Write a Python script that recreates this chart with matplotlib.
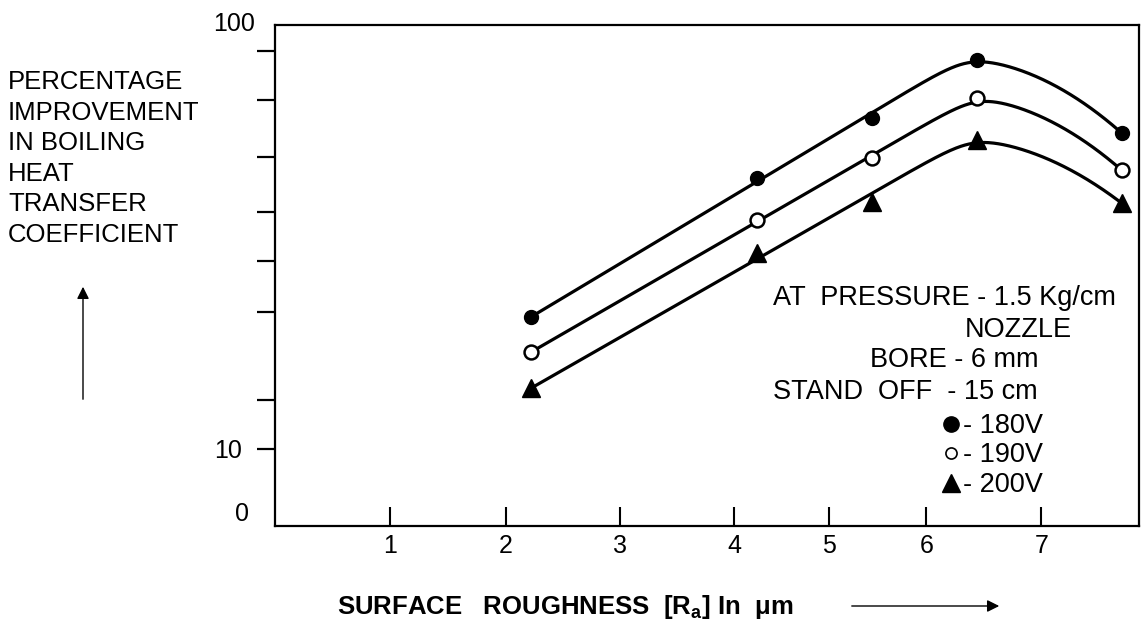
import numpy as np
import matplotlib
matplotlib.use("Agg")
import matplotlib.pyplot as plt
from matplotlib.lines import Line2D
from matplotlib.ticker import NullLocator

# ---------------- data ----------------
roughness = [2.22, 4.24, 5.44, 6.44, 7.70]          # Ra in micrometres
improve_180V = [38.9, 66.2, 76.8, 88.2, 74.2]
improve_190V = [30.9, 58.4, 69.8, 80.4, 67.6]
improve_200V = [22.7, 51.6, 61.8, 73.0, 61.6]
series_labels = ["- 180V", "- 190V", "- 200V"]
x_ticks = [1, 2, 3, 4, 5, 6, 7]
y_tick_major = [10]
y_tick_minor = [20, 40, 50, 60, 70, 80, 90]

# ---------------- hand-drawn axis calibration (scale definition) ----------------
X_CAL_V = [-10, 0, 1, 2, 3, 4, 5, 6, 7, 8, 20]
X_CAL_P = [-1150, 0, 115, 231, 345, 459, 554, 651, 766, 881, 2261]
Y_CAL_V = [-100, 0, 10, 20, 40, 50, 60, 70, 80, 90, 100, 200]
Y_CAL_P = [-770, 0, 77, 126, 214, 265, 314, 369, 426, 475, 501, 761]


def fx(v):
    return np.interp(np.asarray(v, float), X_CAL_V, X_CAL_P)


def fx_inv(p):
    return np.interp(np.asarray(p, float), X_CAL_P, X_CAL_V)


def fy(v):
    return np.interp(np.asarray(v, float), Y_CAL_V, Y_CAL_P)


def fy_inv(p):
    return np.interp(np.asarray(p, float), Y_CAL_P, Y_CAL_V)


def smooth_curve(xv, yv, k=8.0, end_frac=0.25):
    """Hand-drawn style fitted curve: straight rise, rounded peak, arched fall."""
    px = fx(xv)
    py = fy(yv)
    gx = np.linspace(px[0], px[-1], 600)
    s1 = 0.5 * ((py[1] - py[0]) / (px[1] - px[0]) + (py[2] - py[0]) / (px[2] - px[0]))
    rise = py[0] + s1 * (gx - px[0])
    dx = px[-1] - px[-2]
    dy = py[-1] - py[-2]
    s3 = end_frac * dy / dx
    c = (s3 * dx - dy) / dx ** 2
    xv_top = px[-2] + s3 / (2 * c)
    u = np.maximum(gx, xv_top) - px[-2]
    fall = py[-2] + s3 * u - c * u ** 2
    gy = -k * np.logaddexp(-rise / k, -fall / k)
    return fx_inv(gx), fy_inv(gy)


plt.rcParams["font.family"] = ["Liberation Sans", "DejaVu Sans"]
plt.rcParams["mathtext.fontset"] = "custom"
plt.rcParams["mathtext.rm"] = "Liberation Sans"
plt.rcParams["mathtext.bf"] = "Liberation Sans:bold"

W, H = 1146, 620
fig = plt.figure(figsize=(W / 100, H / 100), dpi=100)
ax = fig.add_axes([275 / W, 1 - 526 / H, (1139 - 275) / W, (526 - 25) / H])
ax.set_xscale("function", functions=(fx, fx_inv))
ax.set_yscale("function", functions=(fy, fy_inv))

series = [improve_180V, improve_190V, improve_200V]
mstyles = [
    dict(marker="o", ms=10, mfc="black", mec="black", mew=1),
    dict(marker="o", ms=10, mfc="white", mec="black", mew=1.8),
    dict(marker="^", ms=13, mfc="black", mec="black", mew=1),
]
for vals, st in zip(series, mstyles):
    cx, cy = smooth_curve(roughness, vals)
    ax.plot(cx, cy, color="black", lw=2.3, zorder=2, solid_capstyle="round")
    ax.plot(roughness, vals, ls="none", zorder=3, **st)

ax.set_xlim(0, 7.85)
ax.set_ylim(0, 100)

ax.set_xticks(x_ticks)
ax.set_xticklabels([str(v) for v in x_ticks])
ax.xaxis.set_minor_locator(NullLocator())
ax.set_yticks(y_tick_major)
ax.set_yticklabels([str(v) for v in y_tick_major])
ax.set_yticks(y_tick_minor, minor=True)
ax.tick_params(axis="x", which="major", direction="in", length=14, width=1.5,
               pad=6, labelsize=18)
ax.tick_params(axis="y", which="both", direction="out", length=13, width=1.6,
               pad=11, labelsize=18)
ax.tick_params(axis="y", which="minor", labelleft=False)
for s in ax.spines.values():
    s.set_linewidth(1.6)

# extra axis labels 0 and 100
fig.text(255 / W, 1 - 31 / H, "100", ha="right", va="baseline", fontsize=18)
fig.text(249 / W, 1 - 521 / H, "0", ha="right", va="baseline", fontsize=18)

# y-axis title (left)
ylab = ["PERCENTAGE", "IMPROVEMENT", "IN BOILING", "HEAT", "TRANSFER", "COEFFICIENT"]
for i, line in enumerate(ylab):
    yc = 80 + i * 30.6
    fig.text(8 / W, 1 - (yc + 9) / H, line, ha="left", va="baseline", fontsize=18.5)

# x-axis title
fig.text(337 / W, 1 - 614 / H, "SURFACE   ROUGHNESS  [R$_\\mathbf{a}$] In  \u03bcm",
         ha="left", va="baseline", fontsize=18.5, fontweight="bold")

# arrows
ax.annotate("", xy=(1002, H - 606), xytext=(849, H - 606), xycoords="figure pixels",
            textcoords="figure pixels",
            arrowprops=dict(arrowstyle="-|>", lw=1.0, color="black", mutation_scale=18))
ax.annotate("", xy=(83, H - 284), xytext=(83, H - 402), xycoords="figure pixels",
            textcoords="figure pixels",
            arrowprops=dict(arrowstyle="-|>", lw=1.0, color="black", mutation_scale=18))

# annotation block
fs = 19.5
fig.text(773 / W, 1 - 305 / H, "AT  PRESSURE - 1.5 Kg/cm", ha="left", va="baseline", fontsize=fs)
fig.text(965 / W, 1 - 337 / H, "NOZZLE", ha="left", va="baseline", fontsize=fs)
fig.text(870 / W, 1 - 367 / H, "BORE - 6 mm", ha="left", va="baseline", fontsize=fs)
fig.text(773 / W, 1 - 399 / H, "STAND  OFF  - 15 cm", ha="left", va="baseline", fontsize=fs)

leg_y = [424, 453, 483]
leg_st = [
    dict(marker="o", ms=11, mfc="black", mec="black", mew=1),
    dict(marker="o", ms=8, mfc="white", mec="black", mew=1.2),
    dict(marker="^", ms=13, mfc="black", mec="black", mew=1),
]
for yc, lab, st in zip(leg_y, series_labels, leg_st):
    fig.add_artist(Line2D([951 / W], [1 - yc / H], transform=fig.transFigure,
                          ls="none", **st))
    fig.text(963 / W, 1 - (yc + 9) / H, lab, ha="left", va="baseline", fontsize=fs)

fig.savefig("out.png", dpi=100)
